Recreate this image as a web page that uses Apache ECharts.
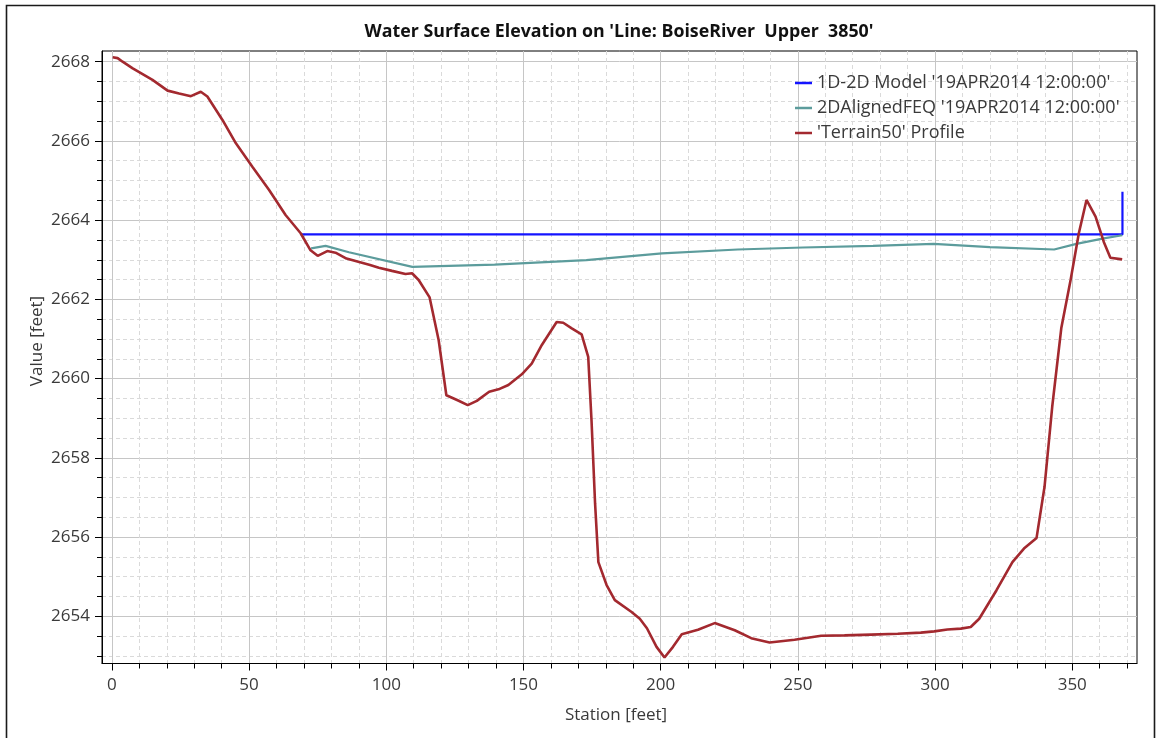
<!DOCTYPE html>
<html>
<head>
<meta charset="utf-8">
<title>Water Surface Elevation</title>
<script src="https://cdn.jsdelivr.net/npm/echarts@6/dist/echarts.min.js"></script>
<style>
  html, body { margin: 0; padding: 0; background: #ffffff; }
  #chart { width: 1159px; height: 738px; }
</style>
</head>
<body>
<div id="chart"></div>
<script>
// Ground profile along the cross-section line (station in feet, elevation in feet)
const terrainStation = [
  0.3, 2.1, 3.9, 7.6, 14.8, 20.3, 24.5, 28.8, 32.4, 34.8,
  40.3, 45.2, 51.2, 57.3, 63.3, 68.8, 72.4, 75.0, 78.5, 81.5,
  85.5, 94.1, 97.3, 102.1, 107.0, 109.4, 111.8, 115.8, 119.1, 121.9,
  125.8, 129.7, 133.0, 137.5, 140.9, 144.5, 149.4, 153.0, 156.7, 162.1,
  164.5, 167.6, 171.2, 173.6, 174.8, 176.1, 177.3, 180.3, 183.3, 189.4,
  192.4, 195.0, 198.5, 201.4, 204.5, 207.7, 213.6, 219.7, 227.0, 233.0,
  239.7, 248.8, 258.5, 267.0, 276.7, 286.4, 294.8, 299.7, 304.5, 309.4,
  313.0, 316.1, 322.4, 328.2, 332.4, 337.0, 339.9, 342.7, 346.0, 349.4,
  352.4, 355.2, 358.5, 361.5, 363.9, 368.2
];
const terrainElev = [
  2668.11, 2668.09, 2668.00, 2667.83, 2667.54, 2667.27, 2667.20, 2667.13, 2667.24, 2667.12,
  2666.53, 2665.94, 2665.35, 2664.76, 2664.13, 2663.67, 2663.24, 2663.10, 2663.22, 2663.18,
  2663.03, 2662.87, 2662.80, 2662.72, 2662.64, 2662.66, 2662.49, 2662.05, 2660.97, 2659.58,
  2659.46, 2659.33, 2659.44, 2659.67, 2659.73, 2659.84, 2660.11, 2660.38, 2660.85, 2661.43,
  2661.41, 2661.27, 2661.12, 2660.55, 2658.95, 2656.85, 2655.37, 2654.79, 2654.41, 2654.11,
  2653.94, 2653.70, 2653.23, 2652.96, 2653.23, 2653.55, 2653.66, 2653.83, 2653.65, 2653.45,
  2653.34, 2653.41, 2653.51, 2653.52, 2653.54, 2653.56, 2653.59, 2653.62, 2653.67, 2653.69,
  2653.73, 2653.94, 2654.66, 2655.37, 2655.71, 2655.98, 2657.27, 2659.29, 2661.27, 2662.49,
  2663.67, 2664.51, 2664.09, 2663.45, 2663.05, 2663.01
];

// 2D aligned FEQ water surface
const feqStation = [72.6, 77.9, 86.4, 109.5, 139.5, 172.9, 200.5, 228.1, 251.8, 277.4, 299.5, 320.0, 343.4, 351.5, 361.5, 368.2];
const feqElev = [2663.29, 2663.35, 2663.19, 2662.82, 2662.88, 2662.99, 2663.16, 2663.26, 2663.31, 2663.35, 2663.40, 2663.32, 2663.26, 2663.40, 2663.54, 2663.62];

// 1D-2D model water surface
const modelStation = [68.8, 368.3, 368.3];
const modelElev = [2663.64, 2663.64, 2664.72];

const seriesNames = [
  "1D-2D Model '19APR2014 12:00:00'",
  "2DAlignedFEQ '19APR2014 12:00:00'",
  "'Terrain50' Profile"
];

// Axis ticks
const xMajorTicks = [0, 50, 100, 150, 200, 250, 300, 350];
const xMinorTicks = [10, 20, 30, 40, 60, 70, 80, 90, 110, 120, 130, 140, 160, 170, 180, 190,
  210, 220, 230, 240, 260, 270, 280, 290, 310, 320, 330, 340, 360, 370];
const yMajorTicks = [2654, 2656, 2658, 2660, 2662, 2664, 2666, 2668];
const yMinorTicks = [2653, 2653.5, 2654.5, 2655, 2655.5, 2656.5, 2657, 2657.5, 2658.5, 2659, 2659.5,
  2660.5, 2661, 2661.5, 2662.5, 2663, 2663.5, 2664.5, 2665, 2665.5, 2666.5, 2667, 2667.5];

const X_MIN = -3.6, X_MAX = 373.6;
const Y_MIN = 2652.81, Y_MAX = 2668.27;

const FONT = "'Open Sans', 'Noto Sans', sans-serif";
const TEXT = '#3a3a3a';

function pairs(xs, ys) { return xs.map((x, i) => [x, ys[i]]); }

const chart = echarts.init(document.getElementById('chart'), null, { renderer: 'canvas' });

// Labelled axis: major ticks, numbers and solid grid lines
function majorAxis(min, max, ticks, isX) {
  return {
    type: 'value', min: min, max: max,
    position: isX ? 'bottom' : 'left',
    axisLine: { show: true, onZero: false, lineStyle: { color: '#000', width: 1 } },
    axisTick: { show: true, customValues: ticks, length: 7, lineStyle: { color: '#000', width: 1 } },
    axisLabel: {
      show: true, customValues: ticks, fontSize: 17, fontFamily: FONT, color: TEXT,
      margin: isX ? 13 : 12,
      formatter: (v) => String(v)
    },
    splitLine: { show: true, lineStyle: { color: '#c6c6c6', width: 1, type: 'solid' } }
  };
}
// Overlay axis on the same scale: minor ticks and dashed grid lines
function minorAxis(min, max, ticks, isX) {
  return {
    type: 'value', min: min, max: max,
    position: isX ? 'bottom' : 'left', offset: 0,
    axisLine: { show: false, onZero: false },
    axisTick: { show: true, customValues: ticks, length: 5, lineStyle: { color: '#000', width: 1 } },
    axisLabel: { show: false },
    splitLine: { show: true, lineStyle: { color: '#dadada', width: 1, type: [4, 3] } }
  };
}

chart.setOption({
  animation: false,
  backgroundColor: '#ffffff',
  grid: {
    left: 102, top: 51, right: 22, bottom: 74.5,
    show: true, borderColor: '#000', borderWidth: 1, backgroundColor: 'transparent',
    containLabel: false, outerBoundsMode: 'none'
  },
  xAxis: [minorAxis(X_MIN, X_MAX, xMinorTicks, true), majorAxis(X_MIN, X_MAX, xMajorTicks, true)],
  yAxis: [minorAxis(Y_MIN, Y_MAX, yMinorTicks, false), majorAxis(Y_MIN, Y_MAX, yMajorTicks, false)],
  legend: {
    orient: 'vertical', left: 795, top: 73, padding: 0,
    itemWidth: 17, itemHeight: 2.5, itemGap: 5, icon: 'rect',
    textStyle: { fontSize: 18, fontFamily: FONT, color: TEXT, lineHeight: 20 },
    data: seriesNames
  },
  series: [
    {
      name: seriesNames[0], type: 'line', xAxisIndex: 1, yAxisIndex: 1,
      data: pairs(modelStation, modelElev), showSymbol: false, symbol: 'none',
      lineStyle: { color: '#1414ff', width: 2.2 }, itemStyle: { color: '#1414ff' }, z: 3
    },
    {
      name: seriesNames[1], type: 'line', xAxisIndex: 1, yAxisIndex: 1,
      data: pairs(feqStation, feqElev), showSymbol: false, symbol: 'none',
      lineStyle: { color: '#5c9c9c', width: 2.2 }, itemStyle: { color: '#5c9c9c' }, z: 3
    },
    {
      name: seriesNames[2], type: 'line', xAxisIndex: 1, yAxisIndex: 1,
      data: pairs(terrainStation, terrainElev), showSymbol: false, symbol: 'none',
      lineStyle: { color: '#a3292f', width: 2.6 }, itemStyle: { color: '#a3292f' }, z: 4
    }
  ],
  graphic: [
    {
      type: 'rect', silent: true, z: -1,
      shape: { x: 6.5, y: 5.5, width: 1148, height: 745 },
      style: { fill: 'none', stroke: '#1a1a1a', lineWidth: 1.6 }
    },
    {
      type: 'text', silent: true,
      x: 619, y: 32,
      style: {
        text: "Water Surface Elevation on 'Line: BoiseRiver  Upper  3850'",
        font: "bold 17.8px " + FONT, fill: '#111', align: 'center', verticalAlign: 'middle'
      }
    },
    {
      type: 'text', silent: true,
      x: 37, y: 341, rotation: Math.PI / 2,
      style: {
        text: 'Value [feet]', font: "17px " + FONT, fill: TEXT,
        align: 'center', verticalAlign: 'middle'
      }
    },
    {
      type: 'text', silent: true,
      x: 616, y: 715,
      style: {
        text: 'Station [feet]', font: "17px " + FONT, fill: TEXT,
        align: 'center', verticalAlign: 'middle'
      }
    }
  ]
});
</script>
</body>
</html>
